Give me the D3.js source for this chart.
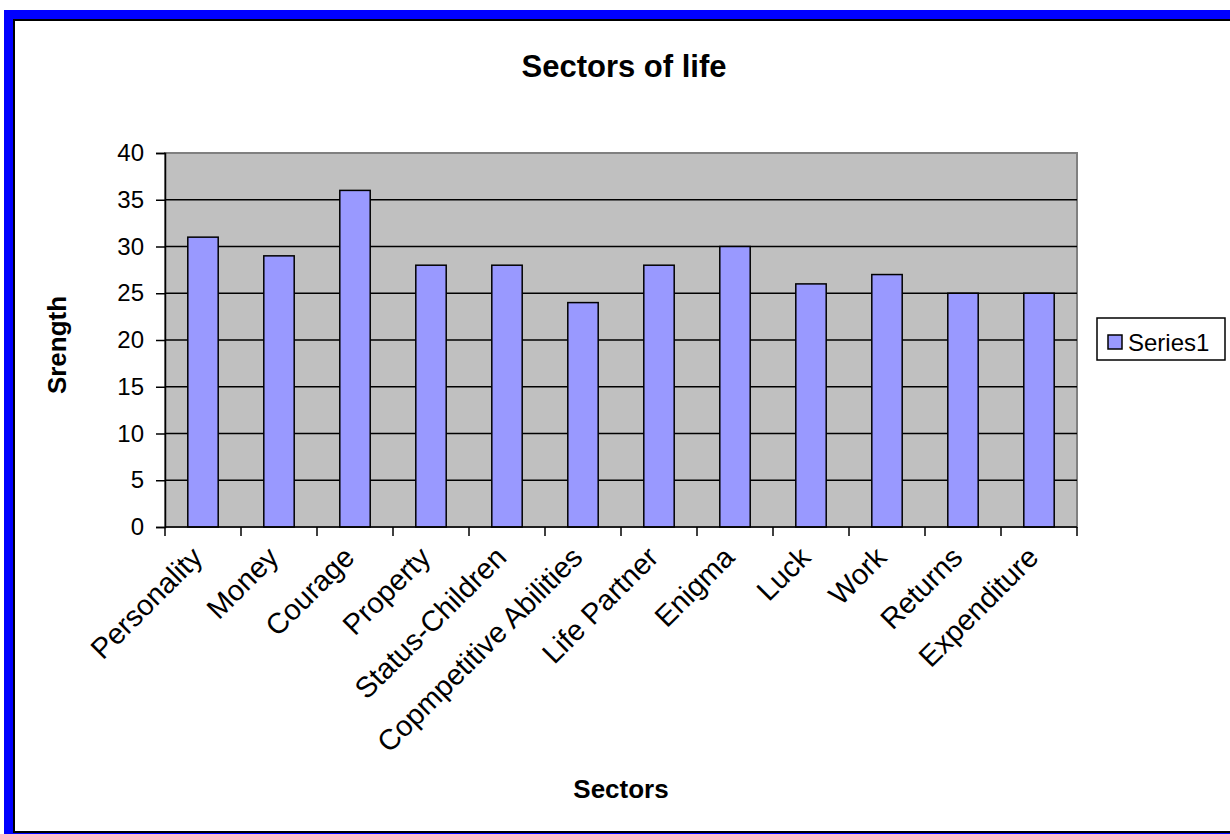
<!DOCTYPE html>
<html>
<head>
<meta charset="utf-8">
<script src="https://cdn.jsdelivr.net/npm/d3@7/dist/d3.min.js"></script>
<style>
html,body{margin:0;padding:0;background:#fff;}
svg{display:block;}
text{font-family:Arial,"Liberation Sans",Helvetica,sans-serif;}
</style>
</head>
<body>
<svg id="chart" width="1230" height="834"></svg>
<script>
const categories = ["Personality","Money","Courage","Property","Status-Children","Copmpetitive Abilities","Life Partner","Enigma","Luck","Work","Returns","Expenditure"];
const values = [31,29,36,28,28,24,28,30,26,27,25,25];
const yTicks = [0,5,10,15,20,25,30,35,40];
const seriesName = "Series1";
const chartTitle = "Sectors of life";
const xTitle = "Sectors";
const yTitle = "Srength";

const svg = d3.select("#chart");
// frame
svg.append("rect").attr("x",4).attr("y",10).attr("width",1240).attr("height",840).attr("fill","#0000FF");
svg.append("rect").attr("x",14).attr("y",20).attr("width",1230).attr("height",812)
  .attr("fill","#fff").attr("stroke","#000").attr("stroke-width",2);

const L=165, R=1077, T=153, B=527;
const x = d3.scaleBand().domain(categories).range([L,R]).paddingInner(0.6).paddingOuter(0.3);
const xEdge = d3.scaleLinear().domain([0,categories.length]).range([L,R]);
const y = d3.scaleLinear().domain([0,40]).range([B,T]);

// plot area
svg.append("rect").attr("x",L).attr("y",T).attr("width",R-L).attr("height",B-T)
  .attr("fill","#C0C0C0").attr("stroke","#808080").attr("stroke-width",2);

// gridlines
svg.append("g").selectAll("line").data(yTicks.filter(d=>d>0&&d<40)).join("line")
  .attr("x1",L).attr("x2",R).attr("y1",d=>y(d)).attr("y2",d=>y(d))
  .attr("stroke","#000").attr("stroke-width",1.5);

// bars
svg.append("g").selectAll("rect").data(values).join("rect")
  .attr("x",(d,i)=>x(categories[i])).attr("width",x.bandwidth())
  .attr("y",d=>y(d)).attr("height",d=>B-y(d))
  .attr("fill","#9999FF").attr("stroke","#000").attr("stroke-width",1.5);

// y axis
const yAxis = d3.axisLeft(y).tickValues(yTicks).tickSize(9).tickPadding(12);
const gy = svg.append("g").attr("transform",`translate(${L},0)`).call(yAxis);
gy.select(".domain").attr("stroke","#000").attr("stroke-width",1.5);
gy.selectAll(".tick line").attr("stroke","#000").attr("stroke-width",1.5);
gy.selectAll(".tick text").attr("font-size",24).attr("fill","#000").attr("font-family","Arial, 'Liberation Sans', sans-serif");

// x axis: ticks at category edges
const gx = svg.append("g").attr("transform",`translate(0,${B})`);
gx.append("line").attr("x1",L).attr("x2",R).attr("stroke","#000").attr("stroke-width",1.5);
gx.selectAll("line.tk").data(d3.range(categories.length+1)).join("line").attr("class","tk")
  .attr("x1",d=>xEdge(d)).attr("x2",d=>xEdge(d)).attr("y1",0).attr("y2",9)
  .attr("stroke","#000").attr("stroke-width",1.5);
gx.selectAll("text").data(categories).join("text")
  .attr("transform",d=>`translate(${x(d)+x.bandwidth()/2-6},${25}) rotate(-45)`)
  .attr("text-anchor","end").attr("dy","0.35em")
  .attr("font-size",29).attr("fill","#000").text(d=>d);

// titles
svg.append("text").attr("x",624).attr("y",77).attr("text-anchor","middle")
  .attr("font-size",31).attr("font-weight","bold").text(chartTitle);
svg.append("text").attr("x",621).attr("y",798).attr("text-anchor","middle")
  .attr("font-size",26).attr("font-weight","bold").text(xTitle);
svg.append("text").attr("transform","translate(66,345) rotate(-90)").attr("text-anchor","middle")
  .attr("font-size",26).attr("font-weight","bold").text(yTitle);

// legend
const lg = svg.append("g");
lg.append("rect").attr("x",1097).attr("y",318).attr("width",128).attr("height",42)
  .attr("fill","#fff").attr("stroke","#000").attr("stroke-width",1.5);
lg.append("rect").attr("x",1108).attr("y",335).attr("width",14).attr("height",14)
  .attr("fill","#9999FF").attr("stroke","#000").attr("stroke-width",1.5);
lg.append("text").attr("x",1128).attr("y",351).attr("font-size",24).text(seriesName);
</script>
</body>
</html>
